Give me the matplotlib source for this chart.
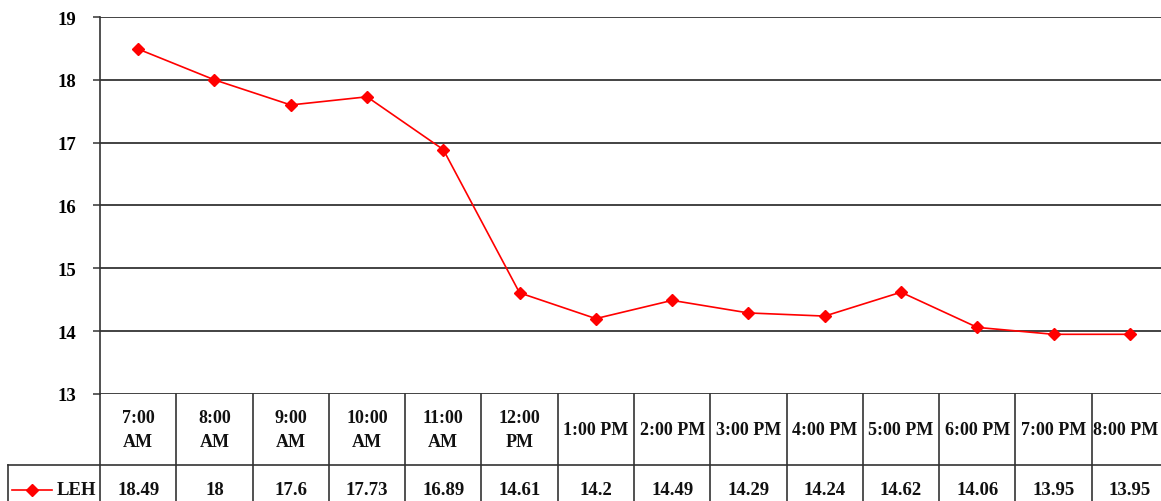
import matplotlib
matplotlib.use("Agg")
import matplotlib.pyplot as plt
from matplotlib.lines import Line2D

# data
times = ["7:00\nAM", "8:00\nAM", "9:00\nAM", "10:00\nAM", "11:00\nAM", "12:00\nPM",
         "1:00 PM", "2:00 PM", "3:00 PM", "4:00 PM", "5:00 PM", "6:00 PM",
         "7:00 PM", "8:00 PM"]
leh = [18.49, 18, 17.6, 17.73, 16.89, 14.61, 14.2, 14.49, 14.29, 14.24,
       14.62, 14.06, 13.95, 13.95]
leh_labels = ["18.49", "18", "17.6", "17.73", "16.89", "14.61", "14.2", "14.49",
              "14.29", "14.24", "14.62", "14.06", "13.95", "13.95"]
series_name = "LEH"
yticks = [13, 14, 15, 16, 17, 18, 19]

W, H = 1161, 502
plt.rcParams['font.family'] = ['Liberation Serif', 'DejaVu Serif']
plt.rcParams['font.weight'] = 'bold'
fs = 13.5

fig = plt.figure(figsize=(W / 100, H / 100), dpi=100)
ax_l, ax_r, ax_t, ax_b = 100, 1168, 18, 395
ax = fig.add_axes([ax_l / W, (H - ax_b) / H, (ax_r - ax_l) / W, (ax_b - ax_t) / H])

n = len(times)
xs = [i + 0.5 for i in range(n)]
ax.plot(xs, leh, color='#ff0000', lw=1.2, marker='D', ms=6.5, mec='#ff0000', mfc='#ff0000', zorder=5)

ax.set_xlim(0, n)
ax.set_ylim(13, 19)
ax.set_yticks(yticks)
ax.set_yticklabels([str(v) for v in yticks], fontsize=fs, fontweight='bold')
ax.set_xticks([])
for v in yticks:
    ax.axhline(v, color='#222222', lw=1.2, zorder=1)
for s in ['top', 'right', 'bottom']:
    ax.spines[s].set_visible(False)
ax.spines['left'].set_color('#333333')
ax.spines['left'].set_linewidth(1.2)
ax.tick_params(axis='y', length=5, width=1.1, color='#333333', pad=12)

# data table below the plot (axes fraction coords)
ph = ax_b - ax_t
def yf(px):
    return (ax_b - px) / ph

hdr_bot = yf(466)
tbl_bot = yf(H + 10)
leg_left = (8 - ax_l) / (ax_r - ax_l)
tr = ax.transAxes
lkw = dict(transform=tr, clip_on=False, color='#333333', lw=1.2)

for i in range(n + 1):
    ax.add_line(Line2D([i / n, i / n], [0, tbl_bot], **lkw))
ax.add_line(Line2D([leg_left, 1], [hdr_bot, hdr_bot], **lkw))
ax.add_line(Line2D([leg_left, leg_left], [hdr_bot, tbl_bot], **lkw))

for i in range(n):
    cx = (i + 0.5) / n
    # last column runs past the image edge, keep its header inside
    hx = cx - 4 / (ax_r - ax_l) if i == n - 1 else cx
    ax.text(hx, (0 + hdr_bot) / 2, times[i], transform=tr, ha='center', va='center',
            fontsize=13, fontweight='bold', linespacing=1.6, color='#111111')
    ax.text(cx, yf(491), leh_labels[i], transform=tr, ha='center', va='center',
            fontsize=fs, fontweight='bold', color='#111111')

# legend key inside the table
kx0 = (12 - ax_l) / (ax_r - ax_l)
kx1 = (52 - ax_l) / (ax_r - ax_l)
ax.add_line(Line2D([kx0, kx1], [yf(491), yf(491)], transform=tr, clip_on=False,
                   color='#ff0000', lw=1.2))
ax.add_line(Line2D([(kx0 + kx1) / 2], [yf(491)], transform=tr, clip_on=False,
                   color='#ff0000', marker='D', ms=6.5))
ax.text((57 - ax_l) / (ax_r - ax_l), yf(491), series_name, transform=tr, ha='left',
        va='center', fontsize=fs, fontweight='bold', color='#111111')

fig.savefig("out.png", dpi=100)
